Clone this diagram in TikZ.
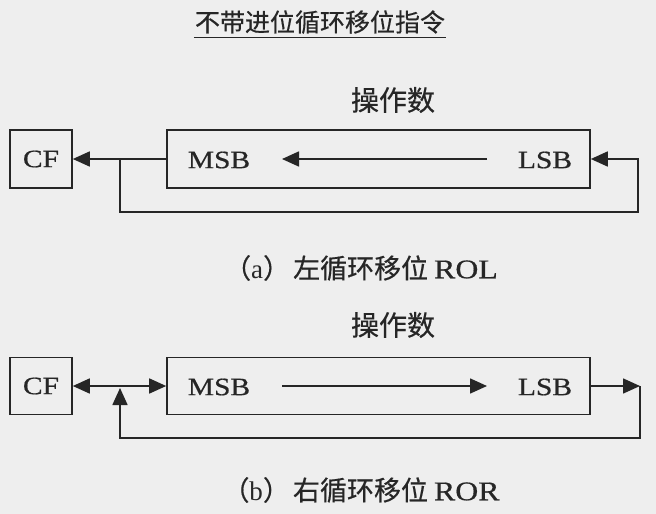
\documentclass[tikz,border=0pt]{standalone}
\usepackage{fontspec}
\setmainfont{Liberation Serif}
\newfontfamily\cjk{Noto Sans CJK SC}[FakeBold=0.5]
\newfontfamily\bitfont{Liberation Serif}[FakeStretch=1.18,FakeBold=0.6]
\usetikzlibrary{arrows.meta}
\definecolor{paper}{RGB}{238,238,238}
\definecolor{ink}{RGB}{38,38,38}

\begin{document}
\begin{tikzpicture}[x=1pt,y=-1pt,>={Triangle[length=17pt,width=15pt]},
  regbox/.style={draw=ink,line width=1.6pt,inner sep=0pt,text=ink,font=\bitfont\fontsize{25}{28}\selectfont},
  flow/.style={->,draw=ink,line width=1.6pt},
  bitlbl/.style={text=ink,font=\bitfont\fontsize{25}{28}\selectfont},
  cjklbl/.style={text=ink,font=\cjk\fontsize{27}{30}\selectfont}]
  \fill[paper] (0,0) rectangle (656,514);
  \useasboundingbox (0,0) rectangle (656,514);

  % title
  \node[cjklbl,font=\cjk\fontsize{25}{28}\selectfont,inner sep=1pt] (title) at (320,22) {不带进位循环移位指令};
  \draw[ink,line width=1pt] ([yshift=-3pt]title.south west) -- ([yshift=-3pt]title.south east);

  % (a) rotate left
  \node[cjklbl,font=\cjk\fontsize{28}{30}\selectfont] (opnA) at (393,100) {操作数};
  \node[regbox,minimum width=62pt,minimum height=58pt] (cfA) at (41,159) {CF};
  \node[regbox,minimum width=423pt,minimum height=58pt] (opA) at (378.5,159) {};
  \node[bitlbl] (msbA) at (219,160) {MSB};
  \node[bitlbl] (lsbA) at (545,160) {LSB};
  \coordinate (inA1) at (487,159);
  \coordinate (inA2) at (282,159);
  \coordinate (jA) at (120,159);
  \coordinate (kA) at (638,159);
  \draw[flow] (opA.west) -- (cfA.east);
  \draw[flow] (inA1) -- (inA2);
  \draw[flow] (jA) -- ++(0,53) -| (kA) -- (opA.east);
  \node[cjklbl] (capA) at (361,268) {（\rmfamily a\cjk）\hspace{3pt}左循环移位\hspace{6pt}{\bitfont ROL}};

  % (b) rotate right
  \node[cjklbl,font=\cjk\fontsize{28}{30}\selectfont] (opnB) at (393,325) {操作数};
  \node[regbox,minimum width=62pt,minimum height=57pt] (cfB) at (41,386) {CF};
  \node[regbox,minimum width=423pt,minimum height=57pt] (opB) at (378.5,386) {};
  \node[bitlbl] (msbB) at (219,387) {MSB};
  \node[bitlbl] (lsbB) at (545,387) {LSB};
  \coordinate (inB1) at (282,386);
  \coordinate (inB2) at (487,386);
  \coordinate (jB) at (120,386);
  \coordinate (kB) at (640,386);
  \draw[flow] (jB) -- (cfB.east);
  \draw[flow] (jB) -- (opB.west);
  \draw[flow] (inB1) -- (inB2);
  \draw[flow] (opB.east) -- (kB);
  \draw[flow,shorten >=2pt] (kB) -- ++(0,52) -| (jB);
  \node[cjklbl] (capB) at (361,490) {（\rmfamily b\cjk）\hspace{3pt}右循环移位\hspace{6pt}{\bitfont ROR}};
\end{tikzpicture}
\end{document}
